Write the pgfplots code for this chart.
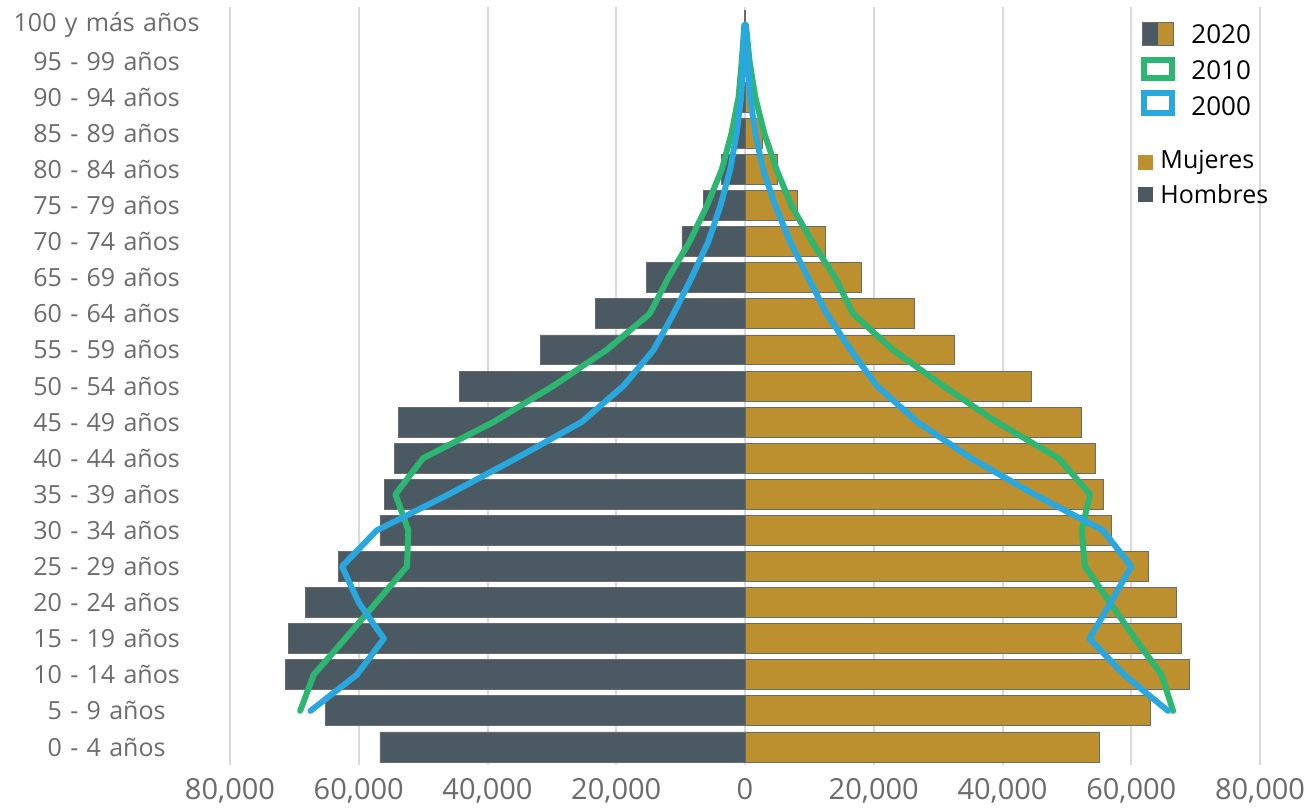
\documentclass[border=0pt]{standalone}
\usepackage{fontspec}
\setmainfont{Open Sans}
\usepackage{pgfplots}
\pgfplotsset{compat=1.18}

\definecolor{hombres}{HTML}{4B5A62}
\definecolor{mujeres}{HTML}{BC8F2F}
\definecolor{c2010}{HTML}{2DB672}
\definecolor{c2000}{HTML}{29A8E0}
\definecolor{gridc}{HTML}{D9D9D9}
\definecolor{tickc}{HTML}{6B6B6B}
\definecolor{edgec}{HTML}{6A6A6A}

\begin{document}
\begin{tikzpicture}
\begin{axis}[
  name=ax,
  scale only axis,
  width=515pt, height=379pt,
  xmin=-80000, xmax=80000,
  ymin=-0.5, ymax=20.5,
  xtick={-80000,-60000,-40000,-20000,0,20000,40000,60000,80000},
  xticklabels={{80,000},{60,000},{40,000},{20,000},0,{20,000},{40,000},{60,000},{80,000}},
  ytick={0,...,20},
  yticklabels={0 - 4 años,5 - 9 años,10 - 14 años,15 - 19 años,20 - 24 años,25 - 29 años,30 - 34 años,35 - 39 años,40 - 44 años,45 - 49 años,50 - 54 años,55 - 59 años,60 - 64 años,65 - 69 años,70 - 74 años,75 - 79 años,80 - 84 años,85 - 89 años,90 - 94 años,95 - 99 años,100 y más años},
  xmajorgrids,
  grid style={color=gridc, line width=1pt},
  axis line style={draw=none},
  major tick length=0pt,
  tick label style={color=tickc},
  yticklabel style={font=\fontsize{12.5}{15}\selectfont, text width=110pt, align=center, inner sep=0pt, xshift=-6.5pt},
  xticklabel style={font=\fontsize{14.5}{16}\selectfont, inner sep=0pt, anchor=north, yshift=-6.5pt},
  clip=false,
]
% Hombres 2020
\addplot[xbar, bar width=0.83, bar shift=0pt, fill=hombres, draw=edgec, line width=0.4pt] coordinates {
(-56700,0) (-65200,1) (-71400,2) (-70900,3) (-68300,4) (-63100,5) (-56700,6)
(-56000,7) (-54500,8) (-53900,9) (-44300,10) (-31800,11) (-23300,12) (-15300,13)
(-9800,14) (-6400,15) (-3600,16) (-1500,17) (-600,18) (-200,19) (-50,20)
};
% Mujeres 2020
\addplot[xbar, bar width=0.83, bar shift=0pt, fill=mujeres, draw=edgec, line width=0.4pt] coordinates {
(55100,0) (63000,1) (69100,2) (67800,3) (67000,4) (62700,5) (56900,6)
(55600,7) (54400,8) (52300,9) (44500,10) (32500,11) (26300,12) (18100,13)
(12500,14) (8200,15) (5100,16) (2700,17) (1000,18) (300,19) (100,20)
};
% 2010
\addplot[color=c2010, line width=3pt, line join=round, line cap=round, mark=none] coordinates {
(-69100,1) (-67000,2) (-62100,3) (-57300,4) (-52500,5) (-52300,6) (-54300,7)
(-50000,8) (-39100,9) (-29800,10) (-21500,11) (-14800,12) (-11900,13) (-8600,14)
(-5900,15) (-3600,16) (-2100,17) (-1000,18) (-500,19) (-100,20)
(150,20) (700,19) (1600,18) (3000,17) (4900,16) (7200,15) (10400,14) (14000,13)
(16800,12) (23000,11) (30800,10) (39100,9) (48700,8) (53600,7) (52300,6)
(52800,5) (56700,4) (60600,3) (64700,2) (66500,1)
};
% 2000
\addplot[color=c2000, line width=3pt, line join=round, line cap=round, mark=none] coordinates {
(-67500,1) (-60300,2) (-56100,3) (-60000,4) (-62600,5) (-57200,6) (-46000,7)
(-35500,8) (-25400,9) (-18900,10) (-14200,11) (-11100,12) (-8300,13) (-5700,14)
(-3800,15) (-2300,16) (-1300,17) (-600,18) (-300,19) (-100,20)
(100,20) (400,19) (800,18) (1600,17) (2800,16) (4700,15) (7000,14) (9800,13)
(12700,12) (16400,11) (20500,10) (26800,9) (35100,8) (44900,7) (55600,6)
(60000,5) (56800,4) (53500,3) (58900,2) (65700,1)
};
\end{axis}

% legend, placed in reference pixel units measured from the top-left corner
\begin{scope}[shift={([xshift=-115pt,yshift=3.5pt]ax.north west)}, x=0.5pt, y=0.5pt]
  \fill[hombres] (1142,-45) rectangle (1158,-22);
  \fill[mujeres] (1158,-45) rectangle (1173,-22);
  \draw[edgec, line width=0.4pt] (1142,-45) rectangle (1173,-22);
  \draw[c2010, line width=3pt, fill=white] (1143.5,-78.5) rectangle (1171.5,-60);
  \draw[c2000, line width=3pt, fill=white] (1143.5,-113.5) rectangle (1171.5,-93.5);
  \node[anchor=west, inner sep=0pt, font=\fontsize{13}{15}\selectfont] at (1191,-34) {2020};
  \node[anchor=west, inner sep=0pt, font=\fontsize{13}{15}\selectfont] at (1191,-70) {2010};
  \node[anchor=west, inner sep=0pt, font=\fontsize{13}{15}\selectfont] at (1191,-106) {2000};
  \fill[mujeres] (1138,-170) rectangle (1153,-155);
  \fill[hombres] (1138,-202) rectangle (1153,-187);
  \node[anchor=west, inner sep=0pt, font=\fontsize{12.5}{15}\selectfont] at (1160,-162) {Mujeres};
  \node[anchor=west, inner sep=0pt, font=\fontsize{12.5}{15}\selectfont] at (1160,-194) {Hombres};
\end{scope}

\pgfresetboundingbox
\path ([xshift=-115pt,yshift=-23pt]ax.south west) rectangle ([xshift=27.5pt,yshift=3.5pt]ax.north east);
\end{tikzpicture}
\end{document}
